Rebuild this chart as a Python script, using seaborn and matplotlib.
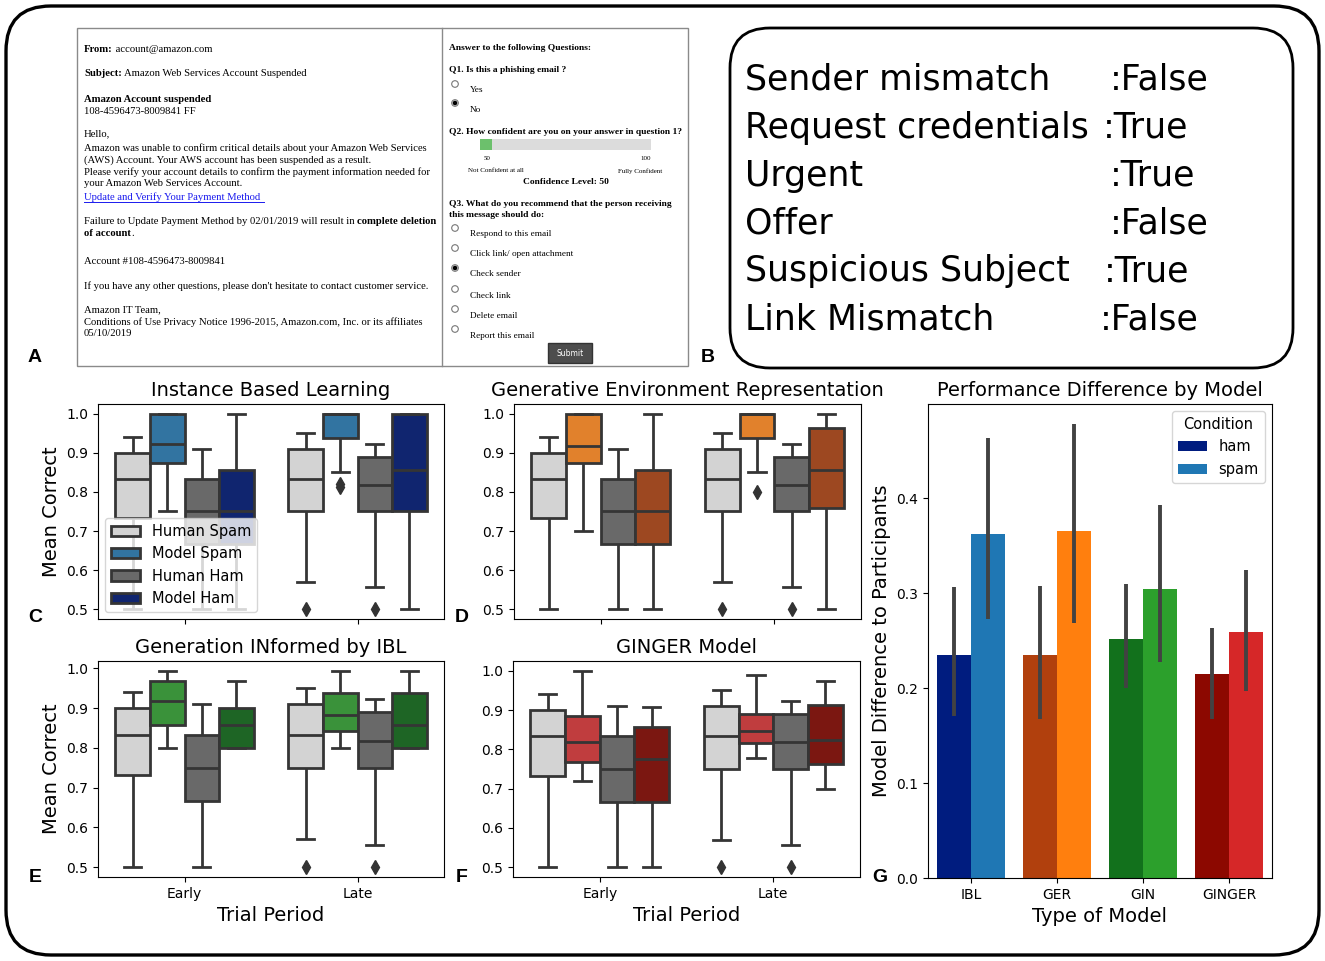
import pandas as pd
import matplotlib.pyplot as plt
import seaborn as sns
from matplotlib.patches import FancyBboxPatch, Rectangle, Circle

# ---- box plot data: per-participant mean correct ----
periods = ['Early', 'Late']
groups = ['Human Spam', 'Model Spam', 'Human Ham', 'Model Ham']

human_spam_early = [0.5, 0.733, 0.733, 0.8, 0.833, 0.867, 0.9, 0.9, 0.94]
human_spam_late = [0.5, 0.57, 0.75, 0.8, 0.833, 0.867, 0.91, 0.93, 0.95]
human_ham_early = [0.5, 0.667, 0.667, 0.7, 0.75, 0.8, 0.833, 0.86, 0.91]
human_ham_late = [0.5, 0.556, 0.75, 0.78, 0.818, 0.85, 0.89, 0.91, 0.923]

ibl_spam_early = [0.75, 0.85, 0.875, 0.9, 0.923, 0.95, 1.0, 1.0, 1.0]
ibl_spam_late = [0.8125, 0.82, 0.85, 0.9375, 0.95, 0.97, 1.0, 1.0, 1.0, 1.0, 1.0, 1.0, 1.0]
ibl_ham_early = [0.5, 0.6, 0.667, 0.7, 0.75, 0.8, 0.857, 0.9, 1.0]
ibl_ham_late = [0.5, 0.7, 0.75, 0.8, 0.857, 0.9, 1.0, 1.0, 1.0]

ger_spam_early = [0.7, 0.8, 0.875, 0.9, 0.917, 0.95, 1.0, 1.0, 1.0]
ger_spam_late = [0.8, 0.85, 0.9375, 0.96, 1.0, 1.0, 1.0, 1.0, 1.0]
ger_ham_early = [0.5, 0.6, 0.667, 0.7, 0.75, 0.8, 0.857, 0.9, 1.0]
ger_ham_late = [0.5, 0.7, 0.76, 0.8, 0.857, 0.9, 0.963, 0.98, 1.0]

gin_spam_early = [0.8, 0.83, 0.857, 0.9, 0.917, 0.94, 0.969, 0.98, 0.994]
gin_spam_late = [0.8, 0.82, 0.843, 0.86, 0.884, 0.91, 0.937, 0.96, 0.994]
gin_ham_early = [0.8, 0.8, 0.8, 0.83, 0.857, 0.88, 0.9, 0.93, 0.968]
gin_ham_late = [0.8, 0.8, 0.8, 0.83, 0.857, 0.9, 0.937, 0.96, 0.994]

ginger_spam_early = [0.72, 0.74, 0.767, 0.8, 0.82, 0.85, 0.884, 0.93, 1.0]
ginger_spam_late = [0.778, 0.8, 0.817, 0.83, 0.847, 0.87, 0.891, 0.94, 0.99]
ginger_ham_early = [0.5, 0.6, 0.667, 0.72, 0.776, 0.82, 0.856, 0.88, 0.908]
ginger_ham_late = [0.7, 0.73, 0.764, 0.8, 0.824, 0.87, 0.914, 0.95, 0.975]

# ---- bar chart data (panel G) ----
models = ['IBL', 'GER', 'GIN', 'GINGER']
ham_diff = [0.235, 0.235, 0.252, 0.215]
spam_diff = [0.362, 0.365, 0.304, 0.259]
ham_lo = [0.171, 0.167, 0.200, 0.167]
ham_hi = [0.306, 0.307, 0.310, 0.263]
spam_lo = [0.273, 0.268, 0.227, 0.197]
spam_hi = [0.463, 0.478, 0.393, 0.324]

ham_colors = ['#001c7f', '#b1400d', '#12711c', '#8c0800']
spam_colors = ['#1f77b4', '#ff7f0e', '#2ca02c', '#d62728']
human_spam_color = '#d3d3d3'
human_ham_color = '#696969'

# ---- panel B feature list ----
feature_names = ['Sender mismatch', 'Request credentials', 'Urgent', 'Offer',
                 'Suspicious Subject', 'Link Mismatch']
feature_values = ['False', 'True', 'True', 'False', 'True', 'False']


def build_scores(spam_early, spam_late, ham_early, ham_late):
    table = {
        ('Early', 'Human Spam'): human_spam_early,
        ('Early', 'Model Spam'): spam_early,
        ('Early', 'Human Ham'): human_ham_early,
        ('Early', 'Model Ham'): ham_early,
        ('Late', 'Human Spam'): human_spam_late,
        ('Late', 'Model Spam'): spam_late,
        ('Late', 'Human Ham'): human_ham_late,
        ('Late', 'Model Ham'): ham_late,
    }
    rows = []
    for (period, group), vals in table.items():
        for v in vals:
            rows.append({'Period': period, 'Group': group, 'Score': v})
    return pd.DataFrame(rows)


fig = plt.figure(figsize=(13.25, 9.61), dpi=100)

# overlay in pixel coordinates for the screenshot panels, frames and letters
ov = fig.add_axes([0, 0, 1, 1])
ov.set_xlim(0, 1325)
ov.set_ylim(961, 0)
ov.axis('off')

ov.add_patch(FancyBboxPatch((6, 6), 1313, 949, boxstyle='round,pad=0,rounding_size=45',
                            fill=False, lw=2.4, ec='black'))
ov.add_patch(FancyBboxPatch((730, 28), 563, 340, boxstyle='round,pad=0,rounding_size=40',
                            fill=False, lw=2.0, ec='black'))

value_x = [1110, 1103, 1110, 1110, 1104, 1100]
for i, (name, val) in enumerate(zip(feature_names, feature_values)):
    yy = 80 + i * 47.8
    ov.text(745, yy, name, fontsize=25, va='center', ha='left')
    ov.text(value_x[i], yy, ':' + val, fontsize=25, va='center', ha='left')

# panel A: email screenshot
ov.add_patch(Rectangle((77, 28), 611, 338, fill=False, ec='#8a8a8a', lw=1))
ov.plot([442, 442], [28, 366], color='#8a8a8a', lw=1)

serif = 'Liberation Serif'


def rich_line(x, y, parts, size=7.7):
    prev = None
    for txt, weight, color in parts:
        if prev is None:
            prev = ov.text(x, y, txt, fontsize=size, family=serif, fontweight=weight,
                           color=color, va='center', ha='left')
        else:
            prev = ov.annotate(txt, xy=(1, 0), xycoords=prev, fontsize=size, family=serif,
                               fontweight=weight, color=color, va='bottom', ha='left')


email_lines = [
    (49, [('From:', 'bold', 'black'), (' account@amazon.com', 'normal', 'black')]),
    (74, [('Subject:', 'bold', 'black'), (' Amazon Web Services Account Suspended', 'normal', 'black')]),
    (99, [('Amazon Account suspended', 'bold', 'black')]),
    (111, [('108-4596473-8009841 FF', 'normal', 'black')]),
    (134, [('Hello,', 'normal', 'black')]),
    (148, [('Amazon was unable to confirm critical details about your Amazon Web Services', 'normal', 'black')]),
    (160, [('(AWS) Account. Your AWS account has been suspended as a result.', 'normal', 'black')]),
    (172, [('Please verify your account details to confirm the payment information needed for', 'normal', 'black')]),
    (184, [('your Amazon Web Services Account.', 'normal', 'black')]),
    (197, [('Update and Verify Your Payment Method', 'normal', '#1a1aee')]),
    (222, [('Failure to Update Payment Method by 02/01/2019 will result in ', 'normal', 'black'),
           ('complete deletion', 'bold', 'black')]),
    (234, [('of account', 'bold', 'black'), ('.', 'normal', 'black')]),
    (261, [('Account #108-4596473-8009841', 'normal', 'black')]),
    (286, [("If you have any other questions, please don't hesitate to contact customer service.", 'normal', 'black')]),
    (310, [('Amazon IT Team,', 'normal', 'black')]),
    (322, [('Conditions of Use Privacy Notice 1996-2015, Amazon.com, Inc. or its affiliates', 'normal', 'black')]),
    (334, [('05/10/2019', 'normal', 'black')]),
]
for yy, parts in email_lines:
    rich_line(84, yy, parts)
ov.plot([84, 264], [202, 202], color='#1a1aee', lw=0.7)

# question form
qs = 6.8
ov.text(449, 48, 'Answer to the following Questions:', fontsize=qs, family=serif, fontweight='bold', va='center')
ov.text(449, 70, 'Q1. Is this a phishing email ?', fontsize=qs, family=serif, fontweight='bold', va='center')
ov.text(449, 132, 'Q2. How confident are you on your answer in question 1?', fontsize=qs, family=serif,
        fontweight='bold', va='center')
ov.text(449, 204, 'Q3. What do you recommend that the person receiving', fontsize=qs, family=serif,
        fontweight='bold', va='center')
ov.text(449, 215, 'this message should do:', fontsize=qs, family=serif, fontweight='bold', va='center')
ov.text(566, 182, 'Confidence Level: 50', fontsize=qs, family=serif, fontweight='bold', va='center', ha='center')

radio_q1 = [('Yes', 84, False), ('No', 103, True)]
radio_q3 = [('Respond to this email', 228, False), ('Click link/ open attachment', 248, False),
            ('Check sender', 268, True), ('Check link', 289, False),
            ('Delete email', 309, False), ('Report this email', 329, False)]
for label, yy, sel in radio_q1 + radio_q3:
    ov.add_patch(Circle((455, yy), 3.3, fc='white', ec='#777777', lw=0.8))
    if sel:
        ov.add_patch(Circle((455, yy), 1.6, fc='black', ec='black'))
    ov.text(470, yy + 6.5, label, fontsize=6.7, family=serif, va='center')

ov.add_patch(Rectangle((480, 139), 171, 11, fc='#dcdcdc', ec='none'))
ov.add_patch(Rectangle((480, 139), 12, 11, fc='#6cc06c', ec='none'))
ov.text(487, 159, '50', fontsize=5, family=serif, va='center', ha='center')
ov.text(646, 159, '100', fontsize=5, family=serif, va='center', ha='center')
ov.text(496, 171, 'Not Confident at all', fontsize=5, family=serif, va='center', ha='center')
ov.text(640, 171, 'Fully Confident', fontsize=5, family=serif, va='center', ha='center')
ov.add_patch(Rectangle((548, 343), 44, 20, fc='#4d4d4d', ec='#333333'))
ov.text(570, 353, 'Submit', fontsize=5.5, color='white', va='center', ha='center')

for letter, (lx, ly) in {'A': (35, 357), 'B': (708, 357), 'C': (35, 617), 'D': (462, 617),
                         'E': (35, 878), 'F': (462, 878), 'G': (880, 878)}.items():
    ov.text(lx, ly, letter, fontsize=14, family='Liberation Sans', fontweight='bold',
            va='center', ha='center')


def px_axes(left, top, right, bottom):
    return fig.add_axes([left / 1325, 1 - bottom / 961, (right - left) / 1325, (bottom - top) / 961])


ax_c = px_axes(98, 404, 444, 619)
ax_d = px_axes(514, 404, 861, 619)
ax_e = px_axes(98, 661, 444, 877)
ax_f = px_axes(513, 661, 860, 877)
ax_g = px_axes(928, 404, 1272, 878)

panels = [
    (ax_c, 'Instance Based Learning', 0, (ibl_spam_early, ibl_spam_late, ibl_ham_early, ibl_ham_late)),
    (ax_d, 'Generative Environment Representation', 1, (ger_spam_early, ger_spam_late, ger_ham_early, ger_ham_late)),
    (ax_e, 'Generation INformed by IBL', 2, (gin_spam_early, gin_spam_late, gin_ham_early, gin_ham_late)),
    (ax_f, 'GINGER Model', 3, (ginger_spam_early, ginger_spam_late, ginger_ham_early, ginger_ham_late)),
]

for ax, title, k, model_data in panels:
    df = build_scores(*model_data)
    pal = {'Human Spam': human_spam_color, 'Model Spam': spam_colors[k],
           'Human Ham': human_ham_color, 'Model Ham': ham_colors[k]}
    sns.boxplot(data=df, x='Period', y='Score', hue='Group', order=periods, hue_order=groups,
                palette=pal, linecolor='#353535', linewidth=2,
                flierprops=dict(marker='d', markerfacecolor='#333333', markeredgecolor='#333333',
                                markersize=7),
                legend=(ax is ax_c), ax=ax)
    ax.set_title(title, fontsize=14)
    ax.set_yticks([0.5, 0.6, 0.7, 0.8, 0.9, 1.0])
    ax.tick_params(labelsize=10)
    ax.set_ylabel('Mean Correct' if ax in (ax_c, ax_e) else '', fontsize=14)
    if ax in (ax_c, ax_d):
        ax.set_xticklabels([])
        ax.set_xlabel('')
    else:
        ax.set_xlabel('Trial Period', fontsize=14)

ax_c.legend(loc='lower left', fontsize=10.5, handlelength=2, borderpad=0.4)

# panel G
bar_df = pd.DataFrame({'Model': models * 2,
                       'Condition': ['ham'] * 4 + ['spam'] * 4,
                       'Diff': ham_diff + spam_diff})
sns.barplot(data=bar_df, x='Model', y='Diff', hue='Condition', order=models,
            palette={'ham': ham_colors[0], 'spam': spam_colors[0]}, saturation=1,
            errorbar=None, ax=ax_g)
for cont, cols, lo, hi in zip(ax_g.containers, [ham_colors, spam_colors], [ham_lo, spam_lo], [ham_hi, spam_hi]):
    for bar, c, l, h in zip(cont, cols, lo, hi):
        bar.set_facecolor(c)
        xc = bar.get_x() + bar.get_width() / 2
        ax_g.vlines(xc, l, h, color='#424242', lw=2.8, zorder=3)
ax_g.set_xlim(-0.5, len(models) - 0.5)
ax_g.set_ylim(0, 0.499)
ax_g.set_title('Performance Difference by Model', fontsize=14)
ax_g.set_xlabel('Type of Model', fontsize=14)
ax_g.set_ylabel('Model Difference to Participants', fontsize=14)
ax_g.tick_params(labelsize=10)
sns.move_legend(ax_g, 'upper right', title='Condition', fontsize=10.5, title_fontsize=10.5)

fig.savefig('out.png', dpi=100)
